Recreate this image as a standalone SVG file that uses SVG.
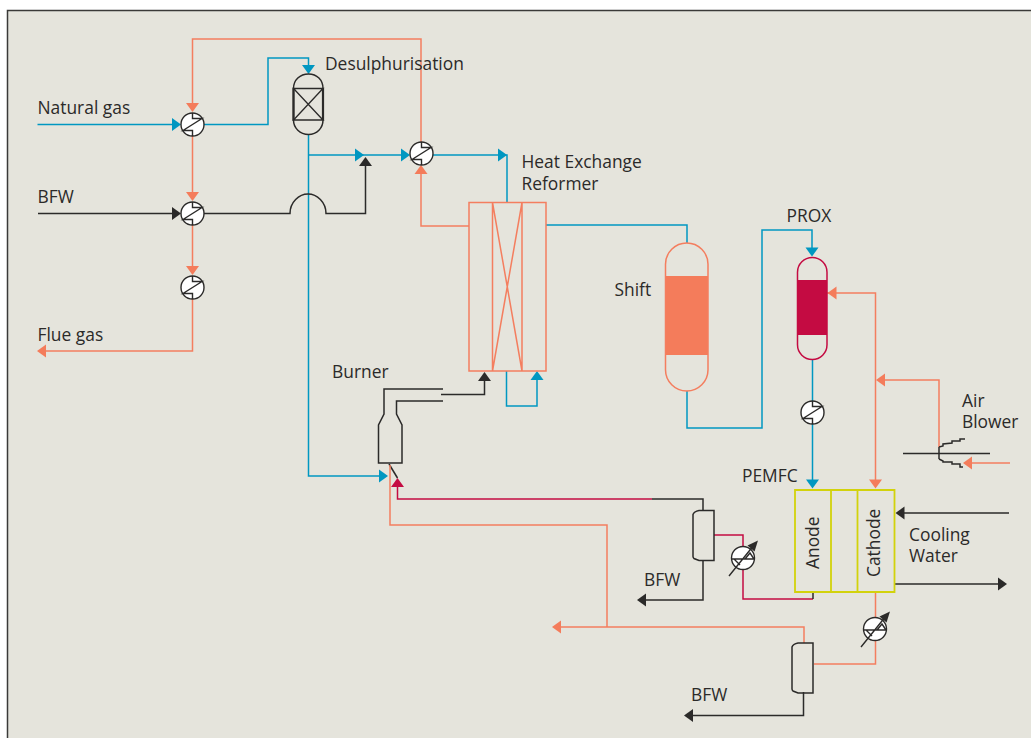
<svg xmlns="http://www.w3.org/2000/svg" xmlns:xlink="http://www.w3.org/1999/xlink" width="1031" height="738" viewBox="0 0 1031 738">
<style>
.l{fill:none;stroke-width:1.5;stroke-linejoin:miter}
.o{stroke:#f47e5f}.b{stroke:#0097c1}.k{stroke:#2b2a29}.c{stroke:#c40b42}.y{stroke:#d2d20c;stroke-width:1.8}
.fo{fill:#f47c5b}.fb{fill:#0097c1}.fk{fill:#2b2a29}.fc{fill:#c40b42}
text{font-family:"Open Sans","Noto Sans","Liberation Sans",sans-serif;font-size:17.4px;fill:#2b2a29}
</style>
<defs>
<g id="hx"><circle r="11.5" fill="#fff" stroke="#2b2a29" stroke-width="1.4"/><path d="M0,-11.5V-6H9.5L-9.5,6H0V11.5" fill="none" stroke="#2b2a29" stroke-width="1.4"/></g>
<g id="vhx"><circle r="11.5" fill="#fff" stroke="#2b2a29" stroke-width="1.4"/><path d="M-11.5,1H11.5M-9,1L-3,7M2,1L7,-5L11,1M-14,18L11,-13" fill="none" stroke="#2b2a29" stroke-width="1.4"/><path d="M15,-17.5L11.5,-6.5L4.5,-12.5Z" fill="#2b2a29"/></g>
<path id="ar" d="M0,0L-9,-6.5V6.5Z"/>
<path id="cond" d="M0,4Q1,1 6,0H21V50H6L1,48Q0,47 0,46Z" fill="none" stroke="#2b2a29" stroke-width="1.5"/>
</defs>
<rect x="7.5" y="10.5" width="1040" height="740" fill="#e5e4dc" stroke="#3a3a38" stroke-width="1.5"/>
<g id="connectors">
<path class="l o" d="M192.5,104V39H421V142M192.5,136V193M192.5,225V267M192.5,299V351H44"/>
<path class="l o" d="M469,226H421V173"/>
<path class="l b" d="M37.5,124.5H173M204,124.5H268V58H308.5V66M308.5,134V476H380M308.5,155H402M433,155H507V202"/>
<path class="l k" d="M38,213.5H173M204,213.5H290C290,202 299,194 308,194C317,194 326,202 326,213.5H365.5V165"/>
<path class="l b" d="M546,225H687V243M687,391V428H762V230H812V248M812.5,359V401M812.5,424V480"/>
<path class="l b" d="M506.5,371V406H537V379"/>
<path class="l k" d="M441,394.5H484.5V380"/>
<path class="l k" d="M389,464L397.5,478"/>
<path class="l o" d="M827,293H875.5V480M885,380H939V447M1010,463H971"/>
<path class="l k" d="M903,453.5H990"/>
<path class="l c" d="M397.5,487V499H652"/>
<path class="l k" d="M652,499H703V510M703,560V600H645"/>
<path class="l c" d="M714,535H743V546M743,570V599H813"/>
<path class="l k" d="M813,592V599"/>
<path class="l o" d="M875.5,592V617M875.5,641V664H814M804,643V627H560M607,627V525H390V465"/>
<path class="l k" d="M803.5,692V715.5H692"/>
<path class="l k" d="M1009,513H904M895,584H999"/>
<g class="fb">
<use xlink:href="#ar" transform="translate(181,124.5)"/>
<use xlink:href="#ar" transform="translate(308.5,74) rotate(90)"/>
<use xlink:href="#ar" transform="translate(364,155)"/>
<use xlink:href="#ar" transform="translate(410,155)"/>
<use xlink:href="#ar" transform="translate(507,155)"/>
<use xlink:href="#ar" transform="translate(388,476)"/>
<use xlink:href="#ar" transform="translate(537,371) rotate(-90)"/>
<use xlink:href="#ar" transform="translate(812,256.5) rotate(90)"/>
<use xlink:href="#ar" transform="translate(812.5,488.5) rotate(90)"/>
</g>
<g class="fo">
<use xlink:href="#ar" transform="translate(192.5,112) rotate(90)"/>
<use xlink:href="#ar" transform="translate(192.5,201) rotate(90)"/>
<use xlink:href="#ar" transform="translate(192.5,275) rotate(90)"/>
<use xlink:href="#ar" transform="translate(37,351) rotate(180)"/>
<use xlink:href="#ar" transform="translate(421,165) rotate(-90)"/>
<use xlink:href="#ar" transform="translate(827.5,293) rotate(180)"/>
<use xlink:href="#ar" transform="translate(875.5,488.5) rotate(90)"/>
<use xlink:href="#ar" transform="translate(876,380) rotate(180)"/>
<use xlink:href="#ar" transform="translate(963,463) rotate(180)"/>
<use xlink:href="#ar" transform="translate(552,627) rotate(180)"/>
</g>
<g class="fk">
<use xlink:href="#ar" transform="translate(181,213.5)"/>
<use xlink:href="#ar" transform="translate(365.5,157) rotate(-90)"/>
<use xlink:href="#ar" transform="translate(484.5,372) rotate(-90)"/>
<use xlink:href="#ar" transform="translate(637,600) rotate(180)"/>
<use xlink:href="#ar" transform="translate(684,715.5) rotate(180)"/>
<use xlink:href="#ar" transform="translate(895.5,513) rotate(180)"/>
<use xlink:href="#ar" transform="translate(1007,584)"/>
</g>
<use xlink:href="#ar" class="fc" transform="translate(397.5,478) rotate(-90)"/>
</g>
<g id="hx1"><use xlink:href="#hx" x="192.5" y="124.5"/></g>
<g id="hx2"><use xlink:href="#hx" x="192.5" y="213.5"/></g>
<g id="hx3"><use xlink:href="#hx" x="192.5" y="287.5"/></g>
<g id="hx4"><use xlink:href="#hx" x="421.5" y="153.5"/></g>
<g id="hx5"><use xlink:href="#hx" x="812.5" y="412.5"/></g>
<g id="vhx1"><use xlink:href="#vhx" x="743" y="558"/></g>
<g id="vhx2"><use xlink:href="#vhx" x="875" y="629"/></g>
<g id="desulph">
<path d="M293.5,88.5C293.5,80 300,74 308.5,74C317,74 323,80 323,88.5V120C323,128 317,134.5 308.5,134.5C300,134.5 293.5,128 293.5,120Z" fill="none" stroke="#2b2a29" stroke-width="1.5"/>
<path d="M293.5,88.5V120M323,88.5V120" stroke="#2b2a29" stroke-width="2.2"/>
<path d="M293.5,88.5H323L293.5,120H323Z" fill="none" stroke="#2b2a29" stroke-width="1.4"/>
<text x="325" y="70">Desulphurisation</text>
</g>
<g id="her">
<path class="l o" d="M469,202.5H546V371H469ZM492.5,202.5V371M522,202.5V371M492.5,202.5L522,371M522,202.5L492.5,371"/>
<text x="521.5" y="168">Heat Exchange</text>
<text x="521.5" y="190">Reformer</text>
</g>
<g id="shift">
<rect x="665.5" y="276" width="42.5" height="79" class="fo"/>
<rect x="665.5" y="243" width="42.5" height="148" rx="21.25" ry="21.25" class="l o"/>
<text x="614.5" y="296">Shift</text>
</g>
<g id="prox">
<rect x="797.5" y="280" width="29.5" height="55" class="fc"/>
<rect x="797.5" y="257.5" width="29.5" height="102" rx="14.75" ry="14.75" class="l c"/>
<text x="786.5" y="222">PROX</text>
</g>
<g id="burner">
<path class="l k" d="M443,389H384V414L378.5,425V463H402V425L396.5,414V401H443"/>
<text x="332" y="378">Burner</text>
</g>
<g id="blower">
<path class="l k" d="M939,447V459M939,447L943,446V444L952,443V441H960V439H965M939,459L943,461V462H952V464H960V467H963"/>
<text x="962" y="407">Air</text>
<text x="962" y="428">Blower</text>
</g>
<g id="pemfc">
<path class="l y" d="M795,490H894.5V592H795ZM831,490V592M857.5,490V592"/>
<text transform="translate(818.5,569) rotate(-90)">Anode</text>
<text transform="translate(879.5,577) rotate(-90)">Cathode</text>
<text x="742" y="482">PEMFC</text>
</g>
<g id="cond1"><use xlink:href="#cond" x="693" y="510.5"/></g>
<g id="cond2"><use xlink:href="#cond" x="792" y="643"/></g>
<g id="labels">
<text x="37.5" y="114">Natural gas</text>
<text x="37.5" y="203">BFW</text>
<text x="37.5" y="341">Flue gas</text>
<text x="644" y="586">BFW</text>
<text x="691" y="701">BFW</text>
<text x="909" y="541">Cooling</text>
<text x="909" y="562">Water</text>
</g>
</svg>
